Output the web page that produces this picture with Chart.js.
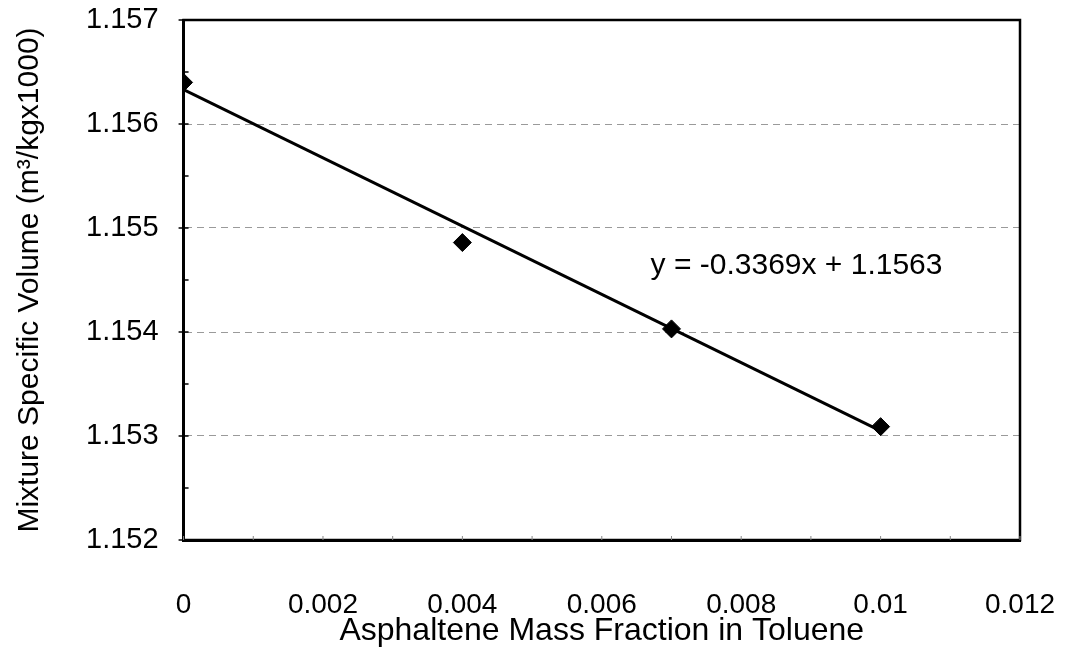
<!DOCTYPE html>
<html>
<head>
<meta charset="utf-8">
<title>Mixture Specific Volume vs Asphaltene Mass Fraction</title>
<script src="https://cdn.jsdelivr.net/npm/chart.js@4.4.1/dist/chart.umd.min.js"></script>
<style>
  html, body { margin: 0; padding: 0; background: #fff; }
  #wrap { width: 1067px; height: 650px; }
</style>
</head>
<body>
<div id="wrap"><canvas id="volChart" width="1067" height="650"></canvas></div>
<script>
// ---- values ----
const massFraction = [0, 0.004, 0.007, 0.01];
const specificVolume = [1.15640, 1.15486, 1.15403, 1.15309];

// linear trendline, ends as drawn
const trendX = [0, 0.01];
const trendY = [1.15633, 1.15305];
const trendText = 'y = -0.3369x + 1.1563';
const trendTextAt = [0.0067, 1.15464];

const xTicks = [0, 0.002, 0.004, 0.006, 0.008, 0.01, 0.012];
const xMinor = [0.001, 0.003, 0.005, 0.007, 0.009, 0.011];
const yTicks = [1.152, 1.153, 1.154, 1.155, 1.156, 1.157];
const yMinor = [1.1525, 1.1535, 1.1545, 1.1555, 1.1565];

const FONT = 'Arial, "Liberation Sans", sans-serif';

const isMajor = (list, v) => list.some(t => Math.abs(t - v) < 1e-9);

// frame + small tick marks + equation text
const framePlugin = {
  id: 'frame',
  afterDraw(chart) {
    const { ctx, chartArea: a, scales: { x, y } } = chart;
    ctx.save();
    ctx.strokeStyle = '#000';
    ctx.lineWidth = 2.5;
    ctx.strokeRect(a.left, a.top, a.right - a.left, a.bottom - a.top);

    ctx.lineWidth = 1.5;
    yTicks.concat(yMinor).forEach(v => {
      const py = y.getPixelForValue(v);
      ctx.beginPath();
      ctx.moveTo(a.left - (isMajor(yTicks, v) ? 5 : 0), py);
      ctx.lineTo(a.left + 5, py);
      ctx.stroke();
    });
    ctx.strokeStyle = '#888';
    ctx.lineWidth = 1;
    xTicks.concat(xMinor).forEach(v => {
      const px = x.getPixelForValue(v);
      ctx.beginPath();
      ctx.moveTo(px, a.bottom);
      ctx.lineTo(px, a.bottom - 4);
      ctx.stroke();
    });

    ctx.fillStyle = '#000';
    ctx.font = '30px ' + FONT;
    ctx.textBaseline = 'middle';
    ctx.fillText(trendText, x.getPixelForValue(trendTextAt[0]), y.getPixelForValue(trendTextAt[1]));
    ctx.restore();
  }
};

// let the layout padding alone decide the plot edges
const noEdgePad = s => { s.paddingTop = 0; s.paddingBottom = 0; s.paddingLeft = 0; s.paddingRight = 0; };

const ctx = document.getElementById('volChart').getContext('2d');
new Chart(ctx, {
  type: 'scatter',
  data: {
    datasets: [
      {
        label: 'Measured',
        data: massFraction.map((m, i) => ({ x: m, y: specificVolume[i] })),
        pointStyle: 'rectRot',
        pointRadius: 9,
        backgroundColor: '#000',
        borderColor: '#000',
        showLine: false,
        order: 1
      },
      {
        label: 'Linear fit',
        data: trendX.map((m, i) => ({ x: m, y: trendY[i] })),
        showLine: true,
        borderColor: '#000',
        borderWidth: 3,
        pointRadius: 0,
        order: 2
      }
    ]
  },
  options: {
    responsive: false,
    animation: false,
    layout: { padding: { top: 20, right: 47, bottom: 0, left: 12 } },
    plugins: { legend: { display: false }, tooltip: { enabled: false } },
    scales: {
      x: {
        type: 'linear',
        min: 0,
        max: 0.012,
        afterBuildTicks: s => { s.ticks = xTicks.map(v => ({ value: v })); },
        afterFit: noEdgePad,
        ticks: {
          color: '#000',
          padding: 48,
          maxRotation: 0,
          font: { family: FONT, size: 28 },
          callback: v => String(Number(v.toFixed(3)))
        },
        grid: { display: false, drawTicks: false },
        border: { color: '#000', width: 3 },
        title: {
          display: true,
          text: 'Asphaltene Mass Fraction in Toluene',
          color: '#000',
          font: { family: FONT, size: 32 },
          padding: { top: -58, bottom: 0 }
        }
      },
      y: {
        type: 'linear',
        min: 1.152,
        max: 1.157,
        afterBuildTicks: s => { s.ticks = yTicks.map(v => ({ value: v })); },
        afterFit: noEdgePad,
        ticks: {
          color: '#000',
          padding: 25,
          font: { family: FONT, size: 29 },
          callback: v => v.toFixed(3)
        },
        grid: {
          drawTicks: false,
          color: c => (c.tick && c.tick.value > 1.1521 && c.tick.value < 1.1569) ? '#9a9a9a' : 'rgba(0,0,0,0)',
          lineWidth: 1
        },
        border: { color: '#000', width: 3, dash: [7, 5] },
        title: {
          display: true,
          text: 'Mixture Specific Volume (m³/kgx1000)',
          color: '#000',
          font: { family: FONT, size: 30 },
          padding: { top: 0, bottom: 13 }
        }
      }
    }
  },
  plugins: [framePlugin]
});
</script>
</body>
</html>
